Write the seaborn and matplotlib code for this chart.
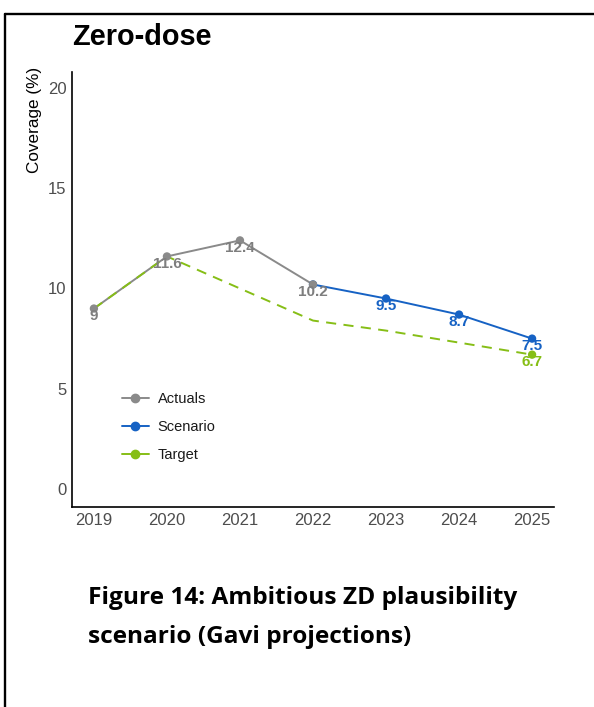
import matplotlib
matplotlib.use("Agg")
import matplotlib.pyplot as plt
from matplotlib.lines import Line2D
import seaborn as sns
import pandas as pd

# Zero-dose coverage series
actual_years = [2019, 2020, 2021, 2022]
actual_values = [9.0, 11.6, 12.4, 10.2]
scenario_years = [2022, 2023, 2024, 2025]
scenario_values = [10.2, 9.5, 8.7, 7.5]
target_years = [2019, 2020, 2021, 2022, 2023, 2024, 2025]
target_values = [9.0, 11.6, 10.0, 8.4, 7.9, 7.3, 6.7]
target_labelled = {2025: 6.7}

year_ticks = [2019, 2020, 2021, 2022, 2023, 2024, 2025]
y_ticks = [0, 5, 10, 15, 20]

GREY = "#8A8A8A"
BLUE = "#1662C4"
GREEN = "#86BE16"

sns.set_theme(style="white")
plt.rcParams["font.family"] = ["Liberation Sans", "DejaVu Sans"]

W, H = 594, 707
fig = plt.figure(figsize=(W / 100, H / 100), dpi=100)
ax = fig.add_axes([72 / W, 1 - 507 / H, (554 - 72) / W, (507 - 72) / H])

actual = pd.DataFrame({"year": actual_years, "value": actual_values})
scenario = pd.DataFrame({"year": scenario_years, "value": scenario_values})
target = pd.DataFrame({"year": target_years, "value": target_values})

lw = 1.4
sns.lineplot(data=actual, x="year", y="value", color=GREY, lw=lw, ax=ax, zorder=2)
sns.lineplot(data=scenario, x="year", y="value", color=BLUE, lw=lw, ax=ax, zorder=2)
sns.lineplot(data=target, x="year", y="value", color=GREEN, lw=lw, ax=ax,
             dashes=False, zorder=3).lines[-1].set_dashes((5.2, 3.8))

tl = pd.DataFrame({"year": list(target_labelled), "value": list(target_labelled.values())})
sns.scatterplot(data=tl, x="year", y="value", color=GREEN, s=36, edgecolor="none", ax=ax, zorder=4)
sns.scatterplot(data=scenario, x="year", y="value", color=BLUE, s=36, edgecolor="none", ax=ax, zorder=5)
sns.scatterplot(data=actual, x="year", y="value", color=GREY, s=36, edgecolor="none", ax=ax, zorder=6)


def label_points(xs, ys, color):
    for x, y in zip(xs, ys):
        txt = f"{y:g}"
        ax.annotate(txt, (x, y), xytext=(0, -5.6), textcoords="offset points",
                    ha="center", va="center", fontsize=11, fontweight="bold",
                    color=color, zorder=7)


label_points(actual_years, actual_values, "#7E7E7E")
label_points(scenario_years[1:], scenario_values[1:], BLUE)
label_points(list(target_labelled), list(target_labelled.values()), GREEN)

ax.set_xlim(2018.7, 2025.3)
ax.set_ylim(-0.9, 20.8)
ax.set_xticks(year_ticks)
ax.set_xticklabels([str(y) for y in year_ticks])
ax.set_yticks(y_ticks)
ax.tick_params(axis="both", length=0, labelsize=12, labelcolor="#4D4D4D", pad=4)
ax.set_xlabel("")
ax.set_ylabel("")
for side in ("top", "right"):
    ax.spines[side].set_visible(False)
for side in ("left", "bottom"):
    ax.spines[side].set_color("black")
    ax.spines[side].set_linewidth(1.2)
ax.grid(False)

handles = [
    Line2D([], [], color=GREY, lw=lw, marker="o", markersize=6),
    Line2D([], [], color=BLUE, lw=lw, marker="o", markersize=6),
    Line2D([], [], color=GREEN, lw=lw, marker="o", markersize=6),
]
leg = fig.legend(handles, ["Actuals", "Scenario", "Target"], loc="upper left",
                 bbox_to_anchor=(122 / W, 1 - 392 / H), bbox_transform=fig.transFigure,
                 frameon=False, fontsize=10.5, handlelength=1.85, handletextpad=0.6,
                 labelspacing=0.95, borderpad=0, borderaxespad=0)
for t in leg.get_texts():
    t.set_color("#1A1A1A")

fig.text(72 / W, 1 - 45 / H, "Zero-dose", fontsize=20.8, fontweight="bold",
         color="black", ha="left", va="baseline")
fig.text(34 / W, 1 - 120 / H, "Coverage (%)", fontsize=12.3, rotation=90,
         ha="center", va="center", color="black")

cap_font = ["Open Sans", "DejaVu Sans"]
fig.text(88 / W, 1 - 604 / H, "Figure 14: Ambitious ZD plausibility",
         fontsize=17.6, fontweight="bold", family=cap_font, color="black",
         ha="left", va="baseline")
fig.text(88 / W, 1 - 643 / H, "scenario (Gavi projections)",
         fontsize=17.6, fontweight="bold", family=cap_font, color="black",
         ha="left", va="baseline")

# page frame: top rule and left rule
fig.add_artist(Line2D([5 / W, 1], [1 - 14 / H, 1 - 14 / H], color="black", lw=1.7,
                      transform=fig.transFigure))
fig.add_artist(Line2D([5 / W, 5 / W], [1 - 14 / H, 0], color="black", lw=1.7,
                      transform=fig.transFigure))

fig.savefig("out.png", dpi=100, facecolor="white")
